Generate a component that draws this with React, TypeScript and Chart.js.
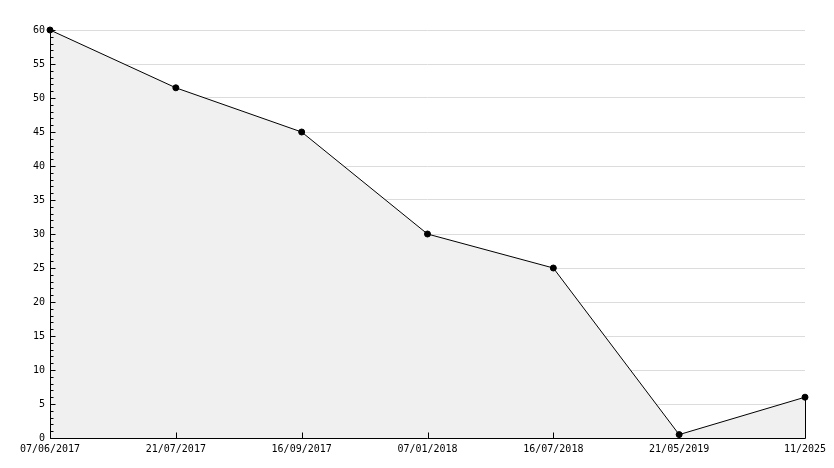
import { useEffect, useRef } from 'react';
import { Chart, registerables } from 'chart.js';

Chart.register(...registerables);

const dateLabels = ['07/06/2017', '21/07/2017', '16/09/2017', '07/01/2018', '16/07/2018', '21/05/2019', '11/2025'];
const seriesValues = [60, 51.5, 45, 30, 25, 0.5, 6];
const yMin = 0;
const yMax = 60;
const yMajorStep = 5;
const yMinorStep = 1;

const FONT = { family: '"DejaVu Sans Mono", monospace', size: 10 };

const innerTicksPlugin = {
  id: 'innerTicks',
  afterDatasetsDraw(chart: any) {
    const { ctx, chartArea, scales } = chart;
    const { left, right, top, bottom } = chartArea;
    const x = scales.x;
    const y = scales.y;
    ctx.save();
    ctx.strokeStyle = '#000';
    ctx.lineWidth = 1;
    ctx.beginPath();
    const axX = Math.round(left) + 0.5;
    const axY = Math.round(bottom) + 0.5;
    for (const t of y.ticks) {
      const py = Math.round(y.getPixelForValue(t.value)) + 0.5;
      const len = t.value % yMajorStep === 0 ? 5 : 3;
      ctx.moveTo(axX, py);
      ctx.lineTo(axX + len, py);
    }
    for (let i = 0; i < x.ticks.length; i++) {
      const px = Math.round(x.getPixelForTick(i)) + 0.5;
      ctx.moveTo(px, axY);
      ctx.lineTo(px, axY - 6);
    }
    ctx.moveTo(axX, top);
    ctx.lineTo(axX, axY);
    ctx.lineTo(right, axY);
    const last = seriesValues.length - 1;
    const lx = Math.round(x.getPixelForValue(last)) + 0.5;
    const ly = y.getPixelForValue(seriesValues[last]);
    ctx.moveTo(lx, ly);
    ctx.lineTo(lx, axY);
    ctx.stroke();
    ctx.restore();
  },
};

export default function App() {
  const ref = useRef<HTMLCanvasElement>(null);
  useEffect(() => {
    if (!ref.current) return;
    const chart = new Chart(ref.current, {
      type: 'line',
      data: {
        labels: dateLabels,
        datasets: [
          {
            data: seriesValues,
            borderColor: '#000',
            borderWidth: 1,
            backgroundColor: '#f0f0f0',
            fill: 'origin',
            tension: 0,
            pointRadius: 3,
            pointBackgroundColor: '#000',
            pointBorderColor: '#000',
            pointBorderWidth: 1,
            clip: false as any,
          },
        ],
      },
      options: {
        animation: false,
        responsive: false,
        maintainAspectRatio: false,
        layout: { padding: { top: 30, right: 29, left: 0, bottom: 0 } },
        plugins: { legend: { display: false }, tooltip: { enabled: false } },
        scales: {
          x: {
            type: 'category',
            offset: false,
            grid: { display: false, drawTicks: false },
            border: { display: false },
            ticks: { font: FONT, color: '#000', padding: 5, maxRotation: 0, autoSkip: false },
            afterFit(scale: any) {
              scale.height = 30;
            },
          },
          y: {
            min: yMin,
            max: yMax,
            grid: {
              drawTicks: false,
              color: (c: any) =>
                c.tick && c.tick.value % yMajorStep === 0 && c.tick.value !== yMin ? '#dcdcdc' : 'rgba(0,0,0,0)',
            },
            border: { display: false },
            ticks: {
              stepSize: yMinorStep,
              maxTicksLimit: 1000,
              autoSkip: false,
              font: FONT,
              color: '#000',
              padding: 5,
              callback: (v: any) => (Number(v) % yMajorStep === 0 ? String(v) : ''),
            },
            afterFit(scale: any) {
              scale.width = 50;
            },
          },
        },
      },
      plugins: [innerTicksPlugin],
    });
    return () => chart.destroy();
  }, []);
  return (
    <div style={{ position: 'fixed', left: 0, top: 0, width: 834, height: 468, background: '#fff' }}>
      <canvas ref={ref} width={834} height={468} style={{ width: 834, height: 468 }} />
    </div>
  );
}
